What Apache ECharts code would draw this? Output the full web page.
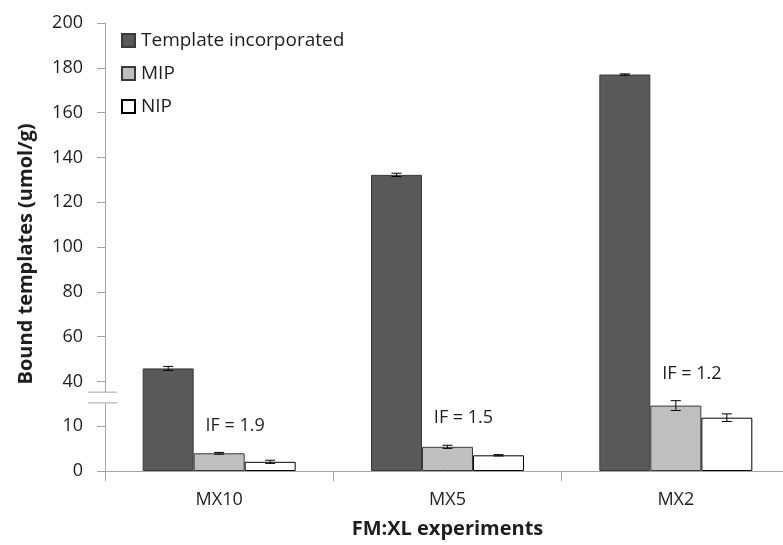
<!DOCTYPE html>
<html>
<head>
<meta charset="utf-8">
<script src="https://cdn.jsdelivr.net/npm/echarts@6/dist/echarts.min.js"></script>
<style>html,body{margin:0;padding:0;background:#fff}#c{width:783px;height:545px}</style>
</head>
<body>
<div id="c"></div>
<script>
// ---- data ----
const categories = ['MX10', 'MX5', 'MX2'];
const seriesNames = ['Template incorporated', 'MIP', 'NIP'];
const templateVals = [45.8, 132.2, 177.0];
const mipVals = [3.95, 5.4, 14.6];
const nipVals = [2.05, 3.5, 11.9];
const templateErr = [0.9, 0.75, 0.3];
const mipErr = [0.2, 0.35, 1.1];
const nipErr = [0.35, 0.15, 0.85];
const ifLabels = ['IF = 1.9', 'IF = 1.5', 'IF = 1.2'];
const yTickLabels = [0, 10, 40, 60, 80, 100, 120, 140, 160, 180, 200];

// broken axis: lower segment (0-15) drawn at double scale, upper segment (40+) at unit scale
function toDisp(v) { return v <= 20 ? 2 * v : v; }
function fromDisp(d) { return d < 40 ? d / 2 : d; }

const FONT = 'Open Sans';
const TXT = '#1e1e1e';
const CAT_GAP = 0.33;

const valueSets = [templateVals, mipVals, nipVals];
const errSets = [templateErr, mipErr, nipErr];
const colors = ['#595959', '#bfbfbf', '#ffffff'];
const borders = ['#3a3a3a', '#3a3a3a', '#000000'];

const errData = [];
valueSets.forEach((vals, k) => {
  vals.forEach((v, i) => {
    errData.push([i, k, toDisp(v - errSets[k][i]), toDisp(v + errSets[k][i])]);
  });
});
const ifData = categories.map((c, i) => [i, toDisp(mipVals[i] + mipErr[i]), ifLabels[i]]);

const chart = echarts.init(document.getElementById('c'), null, { renderer: 'canvas' });

const barSeries = valueSets.map((vals, k) => ({
  name: seriesNames[k],
  type: 'bar',
  data: vals.map(toDisp),
  barGap: '0%',
  barCategoryGap: (CAT_GAP * 100) + '%',
  itemStyle: { color: colors[k], borderColor: borders[k], borderWidth: 1 },
  emphasis: { disabled: true },
  z: 2
}));

const option = {
  animation: false,
  backgroundColor: '#ffffff',
  textStyle: { fontFamily: FONT },
  grid: { left: 105, right: -7, top: 23, bottom: 74, containLabel: false, outerBoundsMode: 'none' },
  legend: {
    orient: 'vertical',
    left: 116, top: 26,
    itemWidth: 13, itemHeight: 13,
    itemGap: 14,
    icon: 'rect',
    selectedMode: false,
    data: seriesNames,
    textStyle: { fontFamily: FONT, fontSize: 19, lineHeight: 18, color: TXT, padding: [0, 0, 0, 1] }
  },
  xAxis: {
    type: 'category',
    data: categories,
    name: 'FM:XL experiments',
    nameLocation: 'middle',
    nameGap: 48,
    nameTextStyle: { fontFamily: FONT, fontSize: 20, fontWeight: 'bold', color: TXT },
    axisLine: { lineStyle: { color: '#a6a6a6', width: 1 } },
    axisTick: { show: true, length: 10, lineStyle: { color: '#a6a6a6' }, alignWithLabel: false },
    axisLabel: { fontFamily: FONT, fontSize: 18, color: TXT, margin: 20 },
    splitLine: { show: false }
  },
  yAxis: {
    type: 'value',
    min: 0, max: 200, interval: 20,
    name: 'Bound templates (umol/g)',
    nameLocation: 'middle',
    nameGap: 69,
    nameRotate: 90,
    nameTextStyle: { fontFamily: FONT, fontSize: 20, fontWeight: 'bold', color: TXT, padding: [0, 14, 0, 0] },
    axisLine: { show: true, lineStyle: { color: '#a6a6a6', width: 1 } },
    axisTick: { show: true, length: 8, lineStyle: { color: '#a6a6a6' } },
    axisLabel: {
      fontFamily: FONT, fontSize: 18, color: TXT, margin: 22,
      formatter: function (d) {
        const v = fromDisp(d);
        return yTickLabels.indexOf(v) >= 0 ? String(v) : '';
      }
    },
    splitLine: { show: false }
  },
  series: barSeries.concat([
    {
      name: 'err',
      type: 'custom',
      data: errData,
      z: 5,
      silent: true,
      encode: { x: 0, y: [2, 3] },
      renderItem: function (params, api) {
        const cat = api.value(0), k = api.value(1);
        const lo = api.coord([cat, api.value(2)]);
        const hi = api.coord([cat, api.value(3)]);
        const band = api.size([1, 0])[0];
        const bw = band * (1 - CAT_GAP) / 3;
        const x = lo[0] + (k - 1) * bw;
        const cap = 5;
        const st = { stroke: '#000', lineWidth: 1 };
        return {
          type: 'group',
          children: [
            { type: 'line', shape: { x1: x, y1: lo[1], x2: x, y2: hi[1] }, style: st },
            { type: 'line', shape: { x1: x - cap, y1: lo[1], x2: x + cap, y2: lo[1] }, style: st },
            { type: 'line', shape: { x1: x - cap, y1: hi[1], x2: x + cap, y2: hi[1] }, style: st }
          ]
        };
      }
    },
    {
      name: 'if',
      type: 'custom',
      data: ifData,
      z: 6,
      silent: true,
      encode: { x: 0, y: 1 },
      renderItem: function (params, api) {
        const p = api.coord([api.value(0), api.value(1)]);
        return {
          type: 'text',
          x: p[0] + 16, y: p[1] - 27,
          style: {
            text: ifData[params.dataIndex][2],
            fontFamily: FONT, fontSize: 18, fill: TXT,
            align: 'center', verticalAlign: 'middle'
          }
        };
      }
    }
  ])
};

chart.setOption(option);

// axis break marks
const BREAK_LO = 30.4, BREAK_HI = 35.2;
const yLo = chart.convertToPixel({ yAxisIndex: 0 }, BREAK_LO);
const yHi = chart.convertToPixel({ yAxisIndex: 0 }, BREAK_HI);
const c0 = chart.convertToPixel({ xAxisIndex: 0 }, 0);
const c1 = chart.convertToPixel({ xAxisIndex: 0 }, 1);
const ax = c0 - (c1 - c0) / 2;
chart.setOption({
  graphic: [
    { type: 'rect', shape: { x: ax - 4, y: yHi, width: 8, height: yLo - yHi }, style: { fill: '#fff' }, z: 100 },
    { type: 'line', shape: { x1: ax - 17, y1: yHi, x2: ax + 12, y2: yHi }, style: { stroke: '#a6a6a6', lineWidth: 1 }, z: 101 },
    { type: 'line', shape: { x1: ax - 17, y1: yLo, x2: ax + 12, y2: yLo }, style: { stroke: '#a6a6a6', lineWidth: 1 }, z: 101 }
  ]
});
</script>
</body>
</html>
